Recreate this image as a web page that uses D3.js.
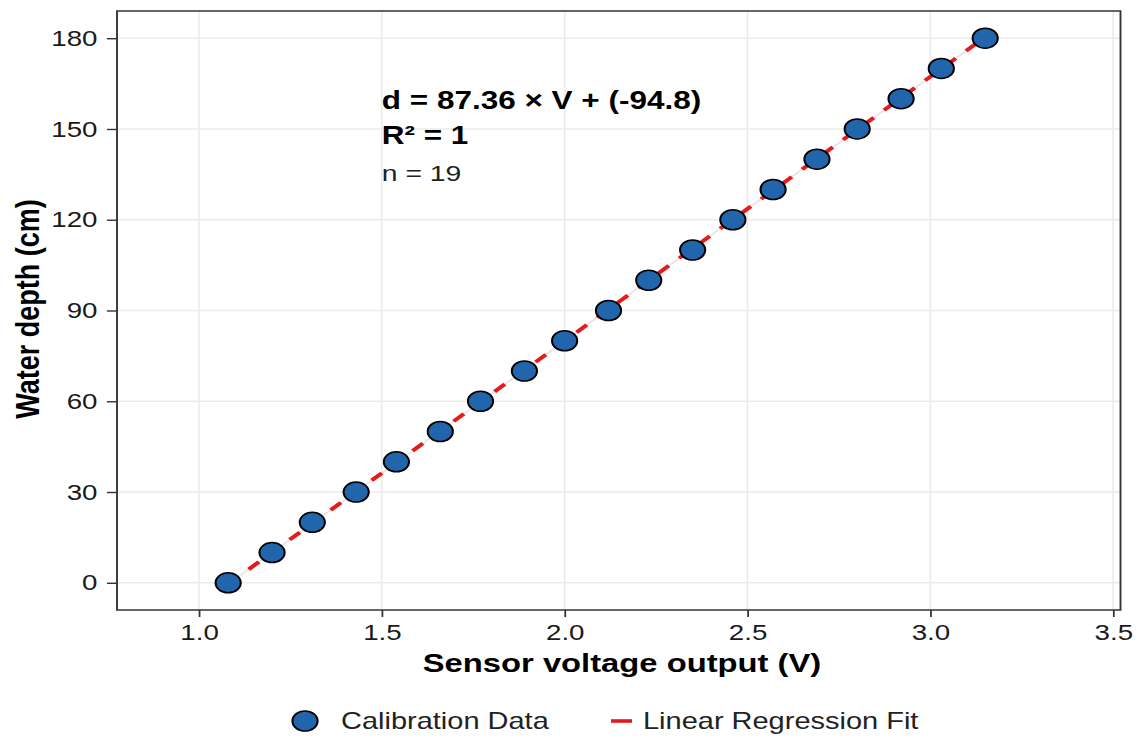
<!DOCTYPE html>
<html>
<head>
<meta charset="utf-8">
<script src="https://cdn.jsdelivr.net/npm/d3@7"></script>
<style>
  html, body { margin: 0; padding: 0; background: #fff; }
  svg { display: block; font-family: "Liberation Sans", Arial, sans-serif; }
</style>
</head>
<body>
<div id="chart"></div>
<script>
// --- data ---
const voltage = [1.08, 1.20, 1.31, 1.43, 1.54, 1.66, 1.77, 1.89, 2.00, 2.12,
                 2.23, 2.35, 2.46, 2.57, 2.69, 2.80, 2.92, 3.03, 3.15];
const depth = [0, 10, 20, 30, 40, 50, 60, 70, 80, 90,
               100, 110, 120, 130, 140, 150, 160, 170, 180];
const xTicks = [1.0, 1.5, 2.0, 2.5, 3.0, 3.5];
const yTicks = [0, 30, 60, 90, 120, 150, 180];
const fitSlope = 87.36;
const fitIntercept = -94.8;
const annotLines = ["d = 87.36 × V + (-94.8)", "R² = 1", "n = 19"];
const legendLabels = ["Calibration Data", "Linear Regression Fit"];

// --- layout (picture is stretched horizontally, so draw in a squeezed viewBox) ---
const W = 1138, H = 737;
const SX = 1.26;
const VW = W / SX;
const panel = { left: 117 / SX, right: 1120.5 / SX, top: 11, bottom: 610 };

const svg = d3.select("#chart").append("svg")
    .attr("width", W).attr("height", H)
    .attr("viewBox", `0 0 ${VW} ${H}`)
    .attr("preserveAspectRatio", "none");

const x = d3.scaleLinear().domain([0.776, 3.52]).range([panel.left, panel.right]);
const y = d3.scaleLinear().domain([-9, 189]).range([panel.bottom, panel.top]);

// grid
const grid = svg.append("g");
grid.selectAll(".gx").data(xTicks).join("line")
    .attr("x1", d => x(d)).attr("x2", d => x(d))
    .attr("y1", panel.top).attr("y2", panel.bottom)
    .attr("stroke", "#ebebeb").attr("stroke-width", 1.3);
grid.selectAll(".gy").data(yTicks).join("line")
    .attr("x1", panel.left).attr("x2", panel.right)
    .attr("y1", d => y(d)).attr("y2", d => y(d))
    .attr("stroke", "#ebebeb").attr("stroke-width", 1.6);

// axes
const xAxis = svg.append("g").attr("transform", `translate(0,${panel.bottom})`)
    .call(d3.axisBottom(x).tickValues(xTicks).tickFormat(d3.format(".1f")).tickSize(7).tickPadding(7));
const yAxis = svg.append("g").attr("transform", `translate(${panel.left},0)`)
    .call(d3.axisLeft(y).tickValues(yTicks).tickSize(8).tickPadding(7.5));
[xAxis, yAxis].forEach(a => {
    a.select(".domain").remove();
    a.selectAll(".tick line").attr("stroke", "#333").attr("stroke-width", 1.4);
    a.selectAll(".tick text").attr("fill", "#1a1a1a").style("font-size", "22px")
        .style("font-family", "'Liberation Sans', Arial, sans-serif");
});

// panel border
svg.append("rect")
    .attr("x", panel.left).attr("y", panel.top)
    .attr("width", panel.right - panel.left).attr("height", panel.bottom - panel.top)
    .attr("fill", "none").attr("stroke", "#333").attr("stroke-width", 1.5);

// fit line
const xMin = d3.min(voltage), xMax = d3.max(voltage);
const fitPts = [xMin, xMax].map(v => [v, fitSlope * v + fitIntercept]);
svg.append("line")
    .attr("x1", x(fitPts[0][0])).attr("y1", y(fitPts[0][1]))
    .attr("x2", x(fitPts[1][0])).attr("y2", y(fitPts[1][1]))
    .attr("stroke", "#e8e4e4").attr("stroke-width", 1.6);
svg.append("line")
    .attr("x1", x(fitPts[0][0])).attr("y1", y(fitPts[0][1]))
    .attr("x2", x(fitPts[1][0])).attr("y2", y(fitPts[1][1]))
    .attr("stroke", "#e41a1c").attr("stroke-width", 3.6)
    .attr("stroke-dasharray", "11,11");

// points
svg.append("g").selectAll("circle").data(voltage).join("circle")
    .attr("cx", d => x(d)).attr("cy", (d, i) => y(depth[i]))
    .attr("r", 10)
    .attr("fill", "#2166ac").attr("stroke", "#000").attr("stroke-width", 1.6);

// annotation
const ann = svg.append("g").attr("transform", `translate(${x(1.5)},0)`);
ann.append("text").attr("y", 109).style("font-size", "25px").style("font-weight", "bold")
    .attr("fill", "#000").text(annotLines[0]);
ann.append("text").attr("y", 144).style("font-size", "25px").style("font-weight", "bold")
    .attr("fill", "#000").text(annotLines[1]);
ann.append("text").attr("y", 181).style("font-size", "22.5px")
    .attr("fill", "#222").text(annotLines[2]);

// axis titles
svg.append("text")
    .attr("x", 622 / SX).attr("y", 672)
    .attr("text-anchor", "middle")
    .style("font-size", "26px").style("font-weight", "bold")
    .text("Sensor voltage output (V)");
svg.append("text")
    .attr("transform", `translate(${39 / SX},${309}) rotate(-90)`)
    .attr("text-anchor", "middle")
    .style("font-size", "27px").style("font-weight", "bold")
    .text("Water depth (cm)");

// legend
const leg = svg.append("g");
leg.append("circle").attr("cx", 305 / SX).attr("cy", 721).attr("r", 10)
    .attr("fill", "#2166ac").attr("stroke", "#000").attr("stroke-width", 1.6);
leg.append("text").attr("x", 341 / SX).attr("y", 729).style("font-size", "23px")
    .attr("fill", "#222").text(legendLabels[0]);
leg.append("line").attr("x1", 611 / SX).attr("x2", 632 / SX).attr("y1", 721).attr("y2", 721)
    .attr("stroke", "#e41a1c").attr("stroke-width", 3.6);
leg.append("text").attr("x", 643 / SX).attr("y", 729).style("font-size", "23px")
    .attr("fill", "#222").text(legendLabels[1]);
</script>
</body>
</html>
